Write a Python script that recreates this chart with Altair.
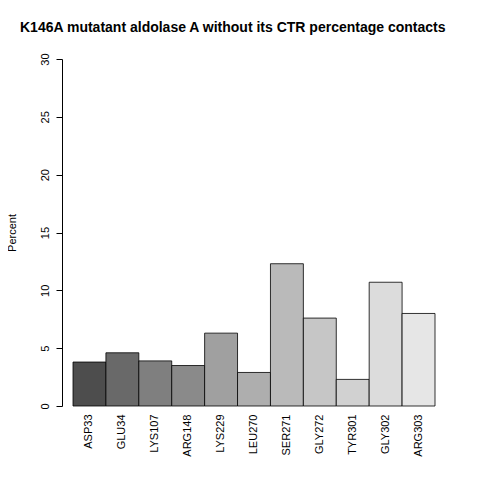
import altair as alt
import pandas as pd

residues = ["ASP33", "GLU34", "LYS107", "ARG148", "LYS229", "LEU270",
            "SER271", "GLY272", "TYR301", "GLY302", "ARG303"]
percent = [3.8, 4.6, 3.9, 3.5, 6.3, 2.9, 12.3, 7.6, 2.3, 10.7, 8.0]
grays = ["#4d4d4d", "#696969", "#7f7f7f", "#8a8a8a", "#a0a0a0", "#aeaeae",
         "#bababa", "#c6c6c6", "#d1d1d1", "#dcdcdc", "#e6e6e6"]

data = pd.DataFrame({"residue": residues, "percent": percent})
font = "Liberation Sans"

chart = alt.Chart(data).mark_bar(stroke="black", strokeWidth=0.8).encode(
    x=alt.X("residue:N", sort=residues, title=None,
            scale=alt.Scale(paddingInner=0, paddingOuter=0),
            axis=alt.Axis(labelAngle=-90, labelAlign="right", labelBaseline="middle",
                          domain=False, ticks=False, labelPadding=8,
                          labelFont=font, labelFontSize=11, labelColor="black")),
    y=alt.Y("percent:Q", title="Percent",
            scale=alt.Scale(domain=[0, 30], nice=False),
            axis=alt.Axis(values=[0, 5, 10, 15, 20, 25, 30], grid=False, offset=11,
                          labelAngle=-90, labelAlign="center", labelBaseline="bottom",
                          labelPadding=6, tickSize=6, domainColor="black", tickColor="black",
                          labelFont=font, labelFontSize=11, labelColor="black",
                          titleFont=font, titleFontSize=11, titleFontWeight="normal",
                          titleColor="black", titlePadding=22)),
    color=alt.Color("residue:N", sort=residues,
                    scale=alt.Scale(domain=residues, range=grays), legend=None),
).properties(
    width=362, height=347,
    autosize="none",
    padding={"left": 65, "top": 51, "right": 30, "bottom": 70},
    title=alt.TitleParams("K146A mutatant aldolase A without its CTR percentage contacts",
                          font=font, fontSize=14, fontWeight="bold", color="black",
                          anchor="start", frame="group", dx=-53, offset=18),
).configure_view(stroke=None)

chart.save("out.html", embed_options={"renderer": "svg", "actions": False})
